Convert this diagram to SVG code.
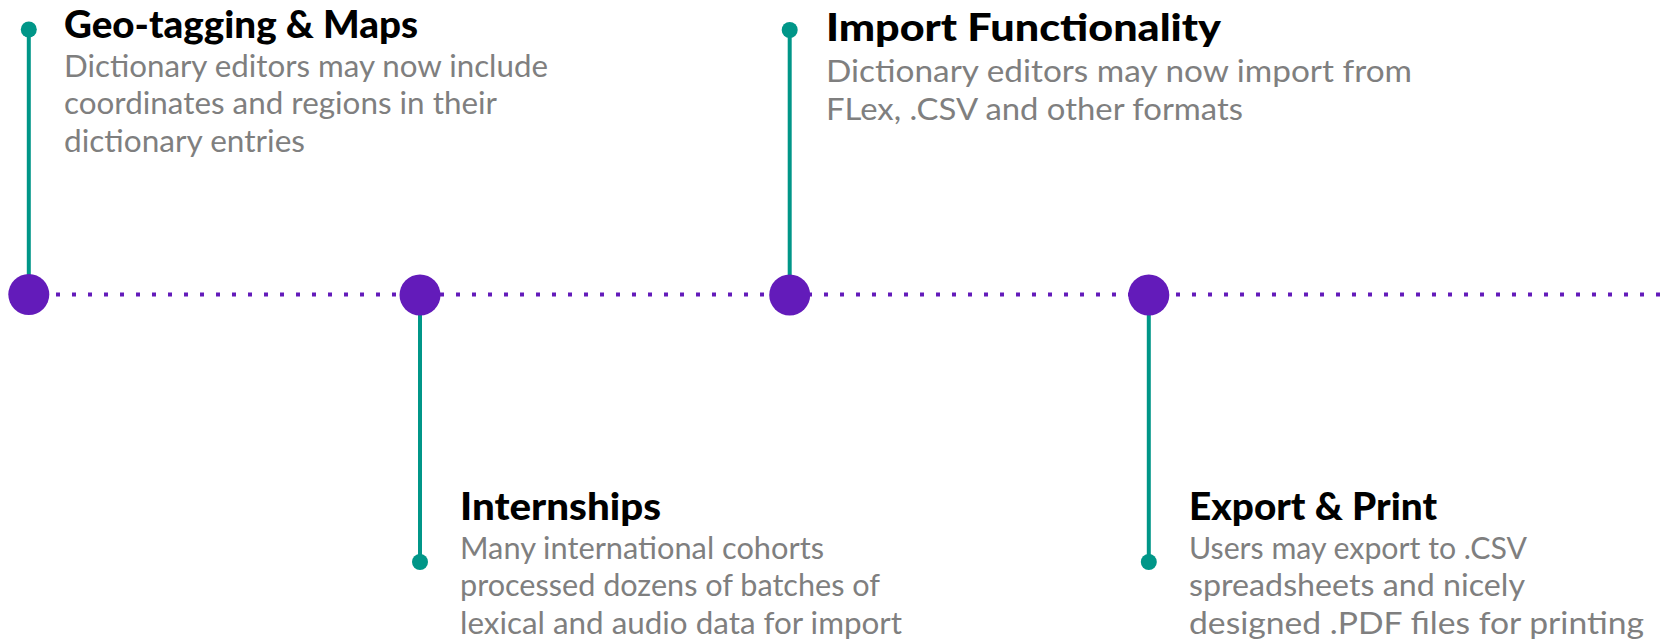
<svg xmlns="http://www.w3.org/2000/svg" width="1671" height="640" viewBox="0 0 1671 640">
  <style>
    .title { font-family: Lato, "Noto Sans", "DejaVu Sans", sans-serif; font-weight: 900; font-size: 37px; fill: #000000; }
    .body { font-family: Lato, "Noto Sans", "DejaVu Sans", sans-serif; font-weight: 400; font-size: 31px; fill: #7f7f7f; }
    .stem { stroke: #009688; stroke-width: 4; fill: none; }
    .pin { fill: #009688; }
    .hub { fill: #631bba; }
    .track { stroke: #631bba; stroke-width: 4; stroke-dasharray: 4 12; fill: none; }
  </style>

  <!-- dotted timeline and stems -->
  <g id="connectors">
    <line class="track" x1="56" y1="294.5" x2="1671" y2="294.5"/>
    <line class="stem" x1="28.8" y1="29.5" x2="28.8" y2="294.5"/>
    <line class="stem" x1="420" y1="295" x2="420" y2="562"/>
    <line class="stem" x1="789.7" y1="30" x2="789.7" y2="295"/>
    <line class="stem" x1="1148.8" y1="295" x2="1148.8" y2="562"/>
  </g>

  <g id="geo-tagging">
    <circle class="hub" cx="28.8" cy="294.5" r="20.5"/>
    <circle class="pin" cx="28.8" cy="29.5" r="8"/>
    <text class="title" x="64" y="37.5" textLength="354" lengthAdjust="spacingAndGlyphs">Geo-tagging &amp; Maps</text>
    <text class="body" x="64" y="76.5" textLength="484" lengthAdjust="spacingAndGlyphs">Dictionary editors may now include</text>
    <text class="body" x="64" y="114" textLength="433" lengthAdjust="spacingAndGlyphs">coordinates and regions in their</text>
    <text class="body" x="64" y="151.5" textLength="241" lengthAdjust="spacingAndGlyphs">dictionary entries</text>
  </g>

  <g id="internships">
    <circle class="hub" cx="420" cy="295" r="20.5"/>
    <circle class="pin" cx="420" cy="562" r="8"/>
    <text class="title" x="460" y="520" textLength="201" lengthAdjust="spacingAndGlyphs">Internships</text>
    <text class="body" x="460" y="558.5" textLength="364" lengthAdjust="spacingAndGlyphs">Many international cohorts</text>
    <text class="body" x="460" y="596" textLength="420" lengthAdjust="spacingAndGlyphs">processed dozens of batches of</text>
    <text class="body" x="460" y="633.5" textLength="442" lengthAdjust="spacingAndGlyphs">lexical and audio data for import</text>
  </g>

  <g id="import-functionality">
    <circle class="hub" cx="789.7" cy="295" r="20.5"/>
    <circle class="pin" cx="789.7" cy="30" r="8"/>
    <text class="title" x="826" y="41" textLength="395" lengthAdjust="spacingAndGlyphs">Import Functionality</text>
    <text class="body" x="826" y="82" textLength="586" lengthAdjust="spacingAndGlyphs">Dictionary editors may now import from</text>
    <text class="body" x="826" y="119.5" textLength="417" lengthAdjust="spacingAndGlyphs">FLex, .CSV and other formats</text>
  </g>

  <g id="export-print">
    <circle class="hub" cx="1148.8" cy="295" r="20.5"/>
    <circle class="pin" cx="1148.8" cy="562" r="8"/>
    <text class="title" x="1189" y="520" textLength="248" lengthAdjust="spacingAndGlyphs">Export &amp; Print</text>
    <text class="body" x="1189" y="558.5" textLength="338" lengthAdjust="spacingAndGlyphs">Users may export to .CSV</text>
    <text class="body" x="1189" y="596" textLength="336" lengthAdjust="spacingAndGlyphs">spreadsheets and nicely</text>
    <text class="body" x="1189" y="633.5" textLength="455" lengthAdjust="spacingAndGlyphs">designed .PDF files for printing</text>
  </g>
</svg>
